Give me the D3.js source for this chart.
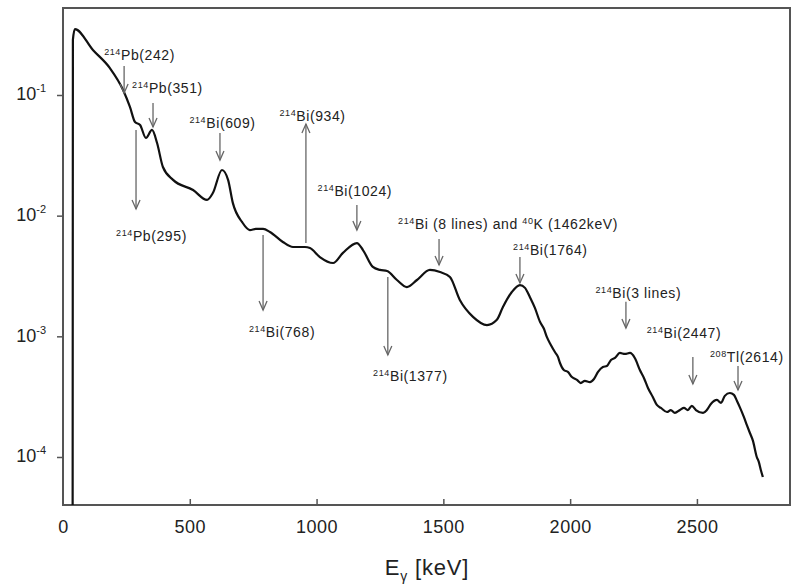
<!DOCTYPE html>
<html><head><meta charset="utf-8">
<script src="https://cdn.jsdelivr.net/npm/d3@7"></script>
<style>body{margin:0;background:#fff;} svg{display:block;font-family:"Liberation Sans",Arial,Helvetica,sans-serif;}</style>
</head><body><svg id="chart" width="792" height="584"></svg>
<script>
// Spectrum (keV, counts per channel, log scale)
const energy = [38,39,47,118,185,237,264,284,304,327,351,371,394,434,513,568,591,627,651,670,706,737,761,789,816,867,907,954,974,1013,1065,1104,1159,1183,1222,1250,1278,1317,1356,1396,1447,1487,1526,1565,1617,1672,1711,1735,1770,1802,1822,1841,1861,1881,1897,1908,1924,1940,1952,1960,1975,1991,2007,2027,2042,2058,2078,2094,2110,2129,2145,2161,2177,2196,2216,2236,2255,2275,2291,2307,2326,2342,2358,2382,2397,2413,2433,2449,2464,2480,2496,2524,2539,2555,2579,2595,2610,2630,2646,2658,2669,2685,2697,2709,2721,2736,2744,2752,2760];
const counts = [4.0e-5,0.286,0.352,0.236,0.167,0.110,0.0796,0.0597,0.0564,0.0441,0.0513,0.0400,0.0253,0.0198,0.0163,0.0135,0.0154,0.0239,0.0198,0.0127,0.00887,0.00760,0.00776,0.00776,0.00733,0.00605,0.00550,0.00550,0.00539,0.00454,0.00405,0.00491,0.00593,0.00519,0.00376,0.00355,0.00348,0.00293,0.00256,0.00293,0.00355,0.00341,0.00310,0.00200,0.00145,0.00124,0.00137,0.00175,0.00233,0.00266,0.00252,0.00212,0.00172,0.00132,0.00115,0.000988,0.000848,0.000741,0.000675,0.000601,0.000526,0.000507,0.000460,0.000435,0.000410,0.000427,0.000418,0.000443,0.000507,0.000557,0.000568,0.000637,0.000662,0.000728,0.000714,0.000728,0.000662,0.000526,0.000452,0.000373,0.000314,0.000270,0.000255,0.000236,0.000245,0.000232,0.000245,0.000255,0.000245,0.000265,0.000245,0.000232,0.000245,0.000275,0.000297,0.000281,0.000321,0.000339,0.000327,0.000291,0.000259,0.000215,0.000184,0.000158,0.000136,0.000100,0.0000910,0.0000780,0.0000683];

const xTicks = [0,500,1000,1500,2000,2500];
const yTicks = [1e-4,1e-3,1e-2,1e-1];
const yTickExp = ["-4","-3","-2","-1"];
const xDomain = [0,2871];
const yDomain = [4.0e-5,0.526];

// Annotations: label (^n = superscript mass number), arrow energy, arrow from/to (counts), label centre energy, label baseline (counts)
const annLabel = ["^214Pb(242)","^214Pb(351)","^214Pb(295)","^214Bi(609)","^214Bi(934)","^214Bi(1024)","^214Bi(768)","^214Bi(1377)","^214Bi (8 lines) and ^40K (1462keV)","^214Bi(1764)","^214Bi(3 lines)","^214Bi(2447)","^208Tl(2614)"];
const annArrowE = [241,355,288,619,958,1159,789,1281,1483,1802,2220,2484,2662];
const annFrom = [0.174,0.0859,0.0513,0.0484,0.00594,0.01225,0.00692,0.00310,0.00641,0.00455,0.00193,0.000675,0.000568];
const annTo = [0.104,0.0543,0.01135,0.0289,0.0575,0.00760,0.00165,0.000700,0.00390,0.00277,0.00117,0.000403,0.000359];
const annLabelE = [302,412,349,629,984,1151,864,1370,1755,1922,2269,2449,2697];
const annLabelC = [0.195,0.104,0.00617,0.0533,0.0610,0.01456,0.000989,0.000427,0.00776,0.00472,0.00208,0.000968,0.000612];

const svg = d3.select("#chart");
const x = d3.scaleLinear().domain(xDomain).range([63,791]);
const y = d3.scaleLog().domain(yDomain).range([505,8]);

svg.append("defs").append("clipPath").attr("id","clip")
  .append("rect").attr("x",63).attr("y",8).attr("width",728).attr("height",497);

// x axis (ticks pointing inward)
const xAxis = d3.axisBottom(x).tickValues(xTicks).tickSizeInner(-6).tickSizeOuter(0).tickFormat(d3.format("d"));
const gx = svg.append("g").attr("transform","translate(0,505)").call(xAxis);
gx.select(".domain").remove();
gx.selectAll(".tick line").attr("stroke","#555").attr("stroke-width",1.5);
gx.selectAll(".tick").filter(d=>d===0).select("line").remove();
gx.selectAll(".tick text").attr("y",28).attr("dy",0).attr("font-size",18).attr("fill","#222")
  .attr("font-family","'Liberation Sans',Arial,sans-serif").attr("letter-spacing",0.5);

// y axis (decades)
const yAxis = d3.axisLeft(y).tickValues(yTicks).tickSizeInner(6).tickSizeOuter(0).tickFormat(()=> "");
const gy = svg.append("g").attr("transform","translate(63,0)").call(yAxis);
gy.select(".domain").remove();
gy.selectAll(".tick line").attr("stroke","#555").attr("stroke-width",1.5);
gy.selectAll(".tick text").each(function(d,i){
  const t = d3.select(this).attr("x",-17).attr("dy",0).attr("y",5).attr("text-anchor","end")
    .attr("font-size",18).attr("fill","#222").attr("font-family","'Liberation Sans',Arial,sans-serif");
  t.text(null);
  t.append("tspan").text("10");
  t.append("tspan").attr("font-size",11).attr("dy",-8).text(yTickExp[yTicks.indexOf(d)]);
});

// frame
svg.append("rect").attr("x",63).attr("y",8).attr("width",727).attr("height",497)
  .attr("fill","none").attr("stroke","#555").attr("stroke-width",2);

// spectrum line
const line = d3.line().x((d,i)=>x(energy[i])).y((d,i)=>y(counts[i])).curve(d3.curveMonotoneX);
svg.append("path").datum(counts).attr("clip-path","url(#clip)")
  .attr("d",line).attr("fill","none").attr("stroke","#111").attr("stroke-width",2.2)
  .attr("stroke-linejoin","round");

// annotations
const ann = svg.append("g");
annLabel.forEach((lab,i)=>{
  const ax = x(annArrowE[i]), y0 = y(annFrom[i]), y1 = y(annTo[i]);
  const dir = y1 > y0 ? 1 : -1;
  ann.append("line").attr("x1",ax).attr("x2",ax).attr("y1",y0).attr("y2",y1)
    .attr("stroke","#666").attr("stroke-width",1.3);
  ann.append("path").attr("d",`M${ax-4},${y1-dir*9}L${ax},${y1}L${ax+4},${y1-dir*9}`)
    .attr("fill","none").attr("stroke","#666").attr("stroke-width",1.3);
  const t = ann.append("text").attr("x",x(annLabelE[i])).attr("y",y(annLabelC[i]))
    .attr("text-anchor","middle").attr("font-size",14).attr("fill","#222").attr("letter-spacing",0.6);
  const parts = lab.split(/\^(\d+)/);
  parts.forEach((p,k)=>{
    if(p==="") return;
    if(k%2===1){
      t.append("tspan").attr("font-size",9).attr("dy",-5).text(p);
    } else {
      const ts = t.append("tspan").text(p);
      if(k>0) ts.attr("dy",5);
    }
  });
});

// x axis title
const title = svg.append("text").attr("x",427).attr("y",575).attr("text-anchor","middle")
  .attr("font-size",22).attr("fill","#222").attr("letter-spacing",0.8);
title.append("tspan").text("E");
title.append("tspan").attr("font-size",14).attr("dy",6).text("γ");
title.append("tspan").attr("dy",-6).text(" [keV]");
</script></body></html>
